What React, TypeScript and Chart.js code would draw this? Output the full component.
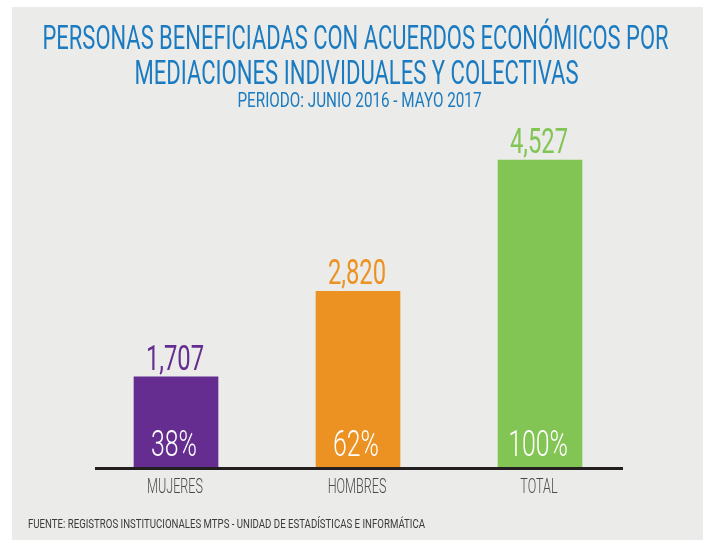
import React, { useEffect, useRef } from "react";
import { Chart, registerables } from "chart.js";

Chart.register(...registerables);

// ---- data ----
const categories = ["MUJERES", "HOMBRES", "TOTAL"];
const values = [1707, 2820, 4527];
const percentLabels = ["38%", "62%", "100%"];
const barColors = ["#652d90", "#ec9223", "#83c555"];
const titleLines = [
  "PERSONAS BENEFICIADAS CON ACUERDOS ECONÓMICOS POR",
  "MEDIACIONES INDIVIDUALES Y COLECTIVAS",
];
const subtitle = "PERIODO: JUNIO 2016 - MAYO 2017";
const sourceText =
  "FUENTE: REGISTROS INSTITUCIONALES MTPS - UNIDAD DE ESTADÍSTICAS E INFORMÁTICA";
const Y_MIN = 535;
const Y_MAX = 5050;

const FONT = "Roboto, 'Liberation Sans', 'DejaVu Sans', sans-serif";
const TITLE_COLOR = "#1b7bc1";

function drawText(
  ctx: CanvasRenderingContext2D,
  text: string,
  x: number,
  y: number,
  font: string,
  color: string,
  align: CanvasTextAlign,
  opts: { width?: number; sx?: number }
) {
  ctx.save();
  ctx.font = font;
  const w = ctx.measureText(text).width;
  const sx = opts.width ? opts.width / w : opts.sx ?? 1;
  ctx.translate(x, y);
  ctx.scale(sx, 1);
  ctx.textAlign = align;
  ctx.textBaseline = "alphabetic";
  ctx.fillStyle = color;
  ctx.fillText(text, 0, 0);
  ctx.restore();
}

const backgroundPlugin = {
  id: "bgPanel",
  beforeDraw(chart: any) {
    const ctx = chart.ctx as CanvasRenderingContext2D;
    ctx.save();
    ctx.fillStyle = "#ffffff";
    ctx.fillRect(0, 0, chart.width, chart.height);
    ctx.fillStyle = "#ebebe9";
    ctx.fillRect(12, 7, chart.width - 12, chart.height - 8);
    ctx.restore();
  },
};

const labelsPlugin = {
  id: "infoLabels",
  afterDatasetsDraw(chart: any) {
    const ctx = chart.ctx as CanvasRenderingContext2D;
    const area = chart.chartArea;
    const cx = chart.width / 2;

    // titles
    drawText(ctx, titleLines[0], cx + 4, 49, `400 33px ${FONT}`, TITLE_COLOR, "center", { width: 626 });
    drawText(ctx, titleLines[1], cx + 5, 83.5, `400 33px ${FONT}`, TITLE_COLOR, "center", { width: 444 });
    drawText(ctx, subtitle, cx + 8, 107, `400 20px ${FONT}`, TITLE_COLOR, "center", { width: 244 });

    // baseline
    ctx.save();
    ctx.strokeStyle = "#231f20";
    ctx.lineWidth = 3;
    ctx.beginPath();
    ctx.moveTo(area.left + 10, area.bottom + 1.5);
    ctx.lineTo(area.right - 8, area.bottom + 1.5);
    ctx.stroke();
    ctx.restore();

    const meta = chart.getDatasetMeta(0);
    meta.data.forEach((bar: any, i: number) => {
      const v = values[i];
      drawText(
        ctx,
        v.toLocaleString("en-US"),
        bar.x - 1,
        bar.y - 7,
        `400 35px ${FONT}`,
        barColors[i],
        "center",
        { sx: 0.68 }
      );
      drawText(
        ctx,
        percentLabels[i],
        bar.x - 2,
        area.bottom - 11.5,
        `300 36px ${FONT}`,
        "#ffffff",
        "center",
        { sx: 0.69 }
      );
      drawText(
        ctx,
        categories[i],
        bar.x - 1,
        493,
        `300 21px ${FONT}`,
        "#4a4a4a",
        "center",
        { sx: 0.6 }
      );
    });

    // source
    drawText(ctx, sourceText, 28, 528, `400 13px ${FONT}`, "#3a3a3a", "left", { width: 397 });
  },
};

export default function App() {
  const canvasRef = useRef<HTMLCanvasElement | null>(null);

  useEffect(() => {
    if (!canvasRef.current) return;
    const chart = new Chart(canvasRef.current, {
      type: "bar",
      data: {
        labels: categories,
        datasets: [
          {
            data: values,
            backgroundColor: barColors,
            borderWidth: 0,
            barThickness: 84,
          },
        ],
      },
      options: {
        responsive: false,
        animation: false,
        devicePixelRatio: 1,
        layout: { padding: { left: 85, right: 72, top: 120, bottom: 74 } },
        plugins: {
          legend: { display: false },
          tooltip: { enabled: false },
          title: { display: false },
        },
        scales: {
          x: { display: false, offset: true, grid: { display: false } },
          y: { display: false, min: Y_MIN, max: Y_MAX, grid: { display: false } },
        },
      },
      plugins: [backgroundPlugin, labelsPlugin],
    });
    return () => chart.destroy();
  }, []);

  return (
    <div style={{ position: "absolute", left: 0, top: 0, width: 703, height: 541 }}>
      <canvas ref={canvasRef} width={703} height={541} style={{ display: "block" }} />
    </div>
  );
}
